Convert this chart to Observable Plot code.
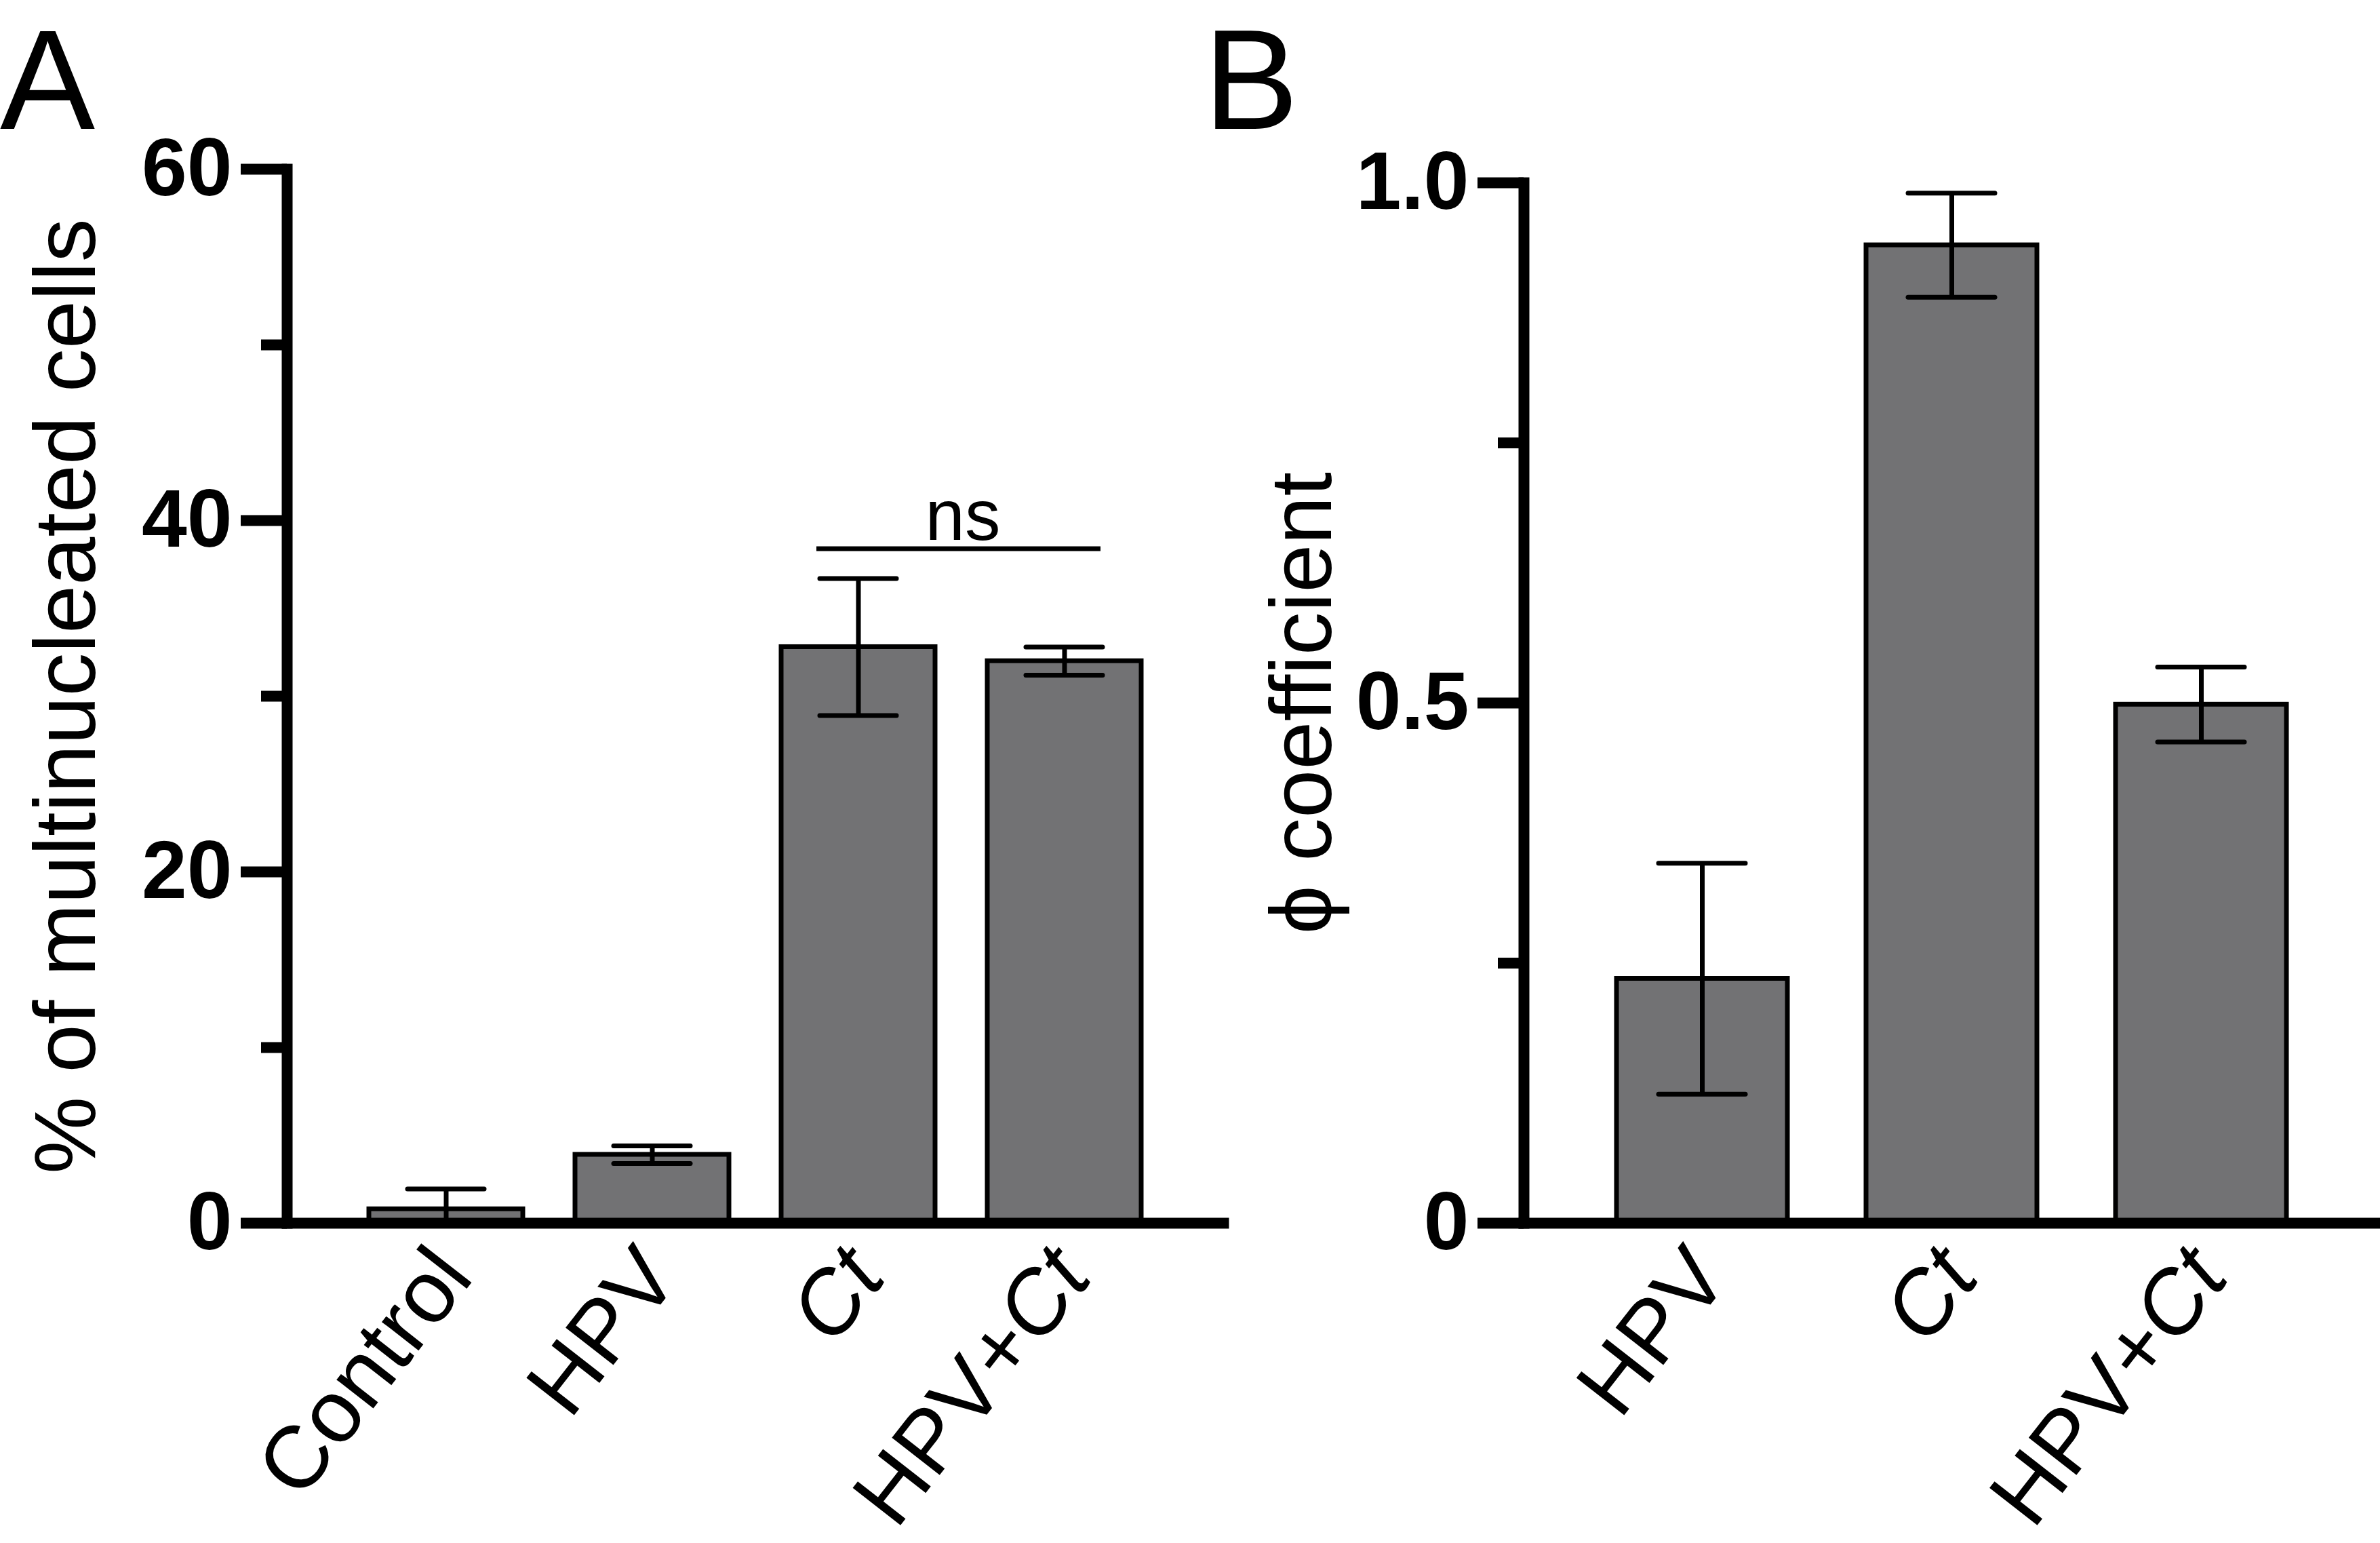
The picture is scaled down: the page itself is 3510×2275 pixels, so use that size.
<!DOCTYPE html>
<html><head><meta charset="utf-8">
<script src="https://cdn.jsdelivr.net/npm/d3@7"></script>
<script src="https://cdn.jsdelivr.net/npm/@observablehq/plot@0.6"></script>
<style>
html,body{margin:0;padding:0;background:#fff;}
#root{position:relative;width:3510px;height:2275px;overflow:hidden;background:#fff;}
#root > svg{position:absolute;top:0;}
</style></head><body><div id="root"></div>
<script>
// ---- data ----
const groupsA = ["Control", "HPV", "Ct", "HPV+Ct"];
const meanA = [0.8, 3.9, 32.8, 32.0];
const errA = [1.15, 0.5, 3.9, 0.8];
const groupsB = ["HPV", "Ct", "HPV+Ct"];
const meanB = [0.235, 0.94, 0.4985];
const errB = [0.111, 0.05, 0.036];
const majorTicksA = [0, 20, 40, 60];
const minorTicksA = [10, 30, 50];
const majorTicksB = [0, 0.5, 1];
const tickLabelsB = ["0", "0.5", "1.0"];
const minorTicksB = [0.25, 0.75];
const bracketsA = [{from: "Ct", to: "HPV+Ct", y: 38.4, label: "ns"}];
const titleA = "% of multinucleated cells";
const titleB = "\u03d5 coefficient";
const italicTerm = "Ct";

const FONT = "'Liberation Sans', Arial, Helvetica, 'DejaVu Sans', sans-serif";
const BAR = "#727274";

const rows = (g, m, e) => g.map((k, i) => ({group: k, mean: m[i], lo: m[i] - e[i], hi: m[i] + e[i]}));

function panel(o) {
  const data = o.rows;
  return Plot.plot({
    width: o.width, height: 2275,
    marginLeft: o.marginLeft, marginRight: o.marginRight, marginTop: o.marginTop, marginBottom: 472,
    style: {fontFamily: FONT, background: "transparent", overflow: "visible", color: "black"},
    x: {domain: o.groups, paddingInner: o.padIn, paddingOuter: o.padOut, axis: null},
    y: {domain: o.yDomain},
    marks: [
      Plot.barY(data, {x: "group", y: "mean", fill: BAR, stroke: "black", strokeWidth: 7}),
      Plot.ruleX(data, {x: "group", y1: d => Math.max(0, d.lo), y2: "hi", stroke: "black", strokeWidth: 7}),
      Plot.tickY(data, {x: "group", y: "hi", insetLeft: o.capInset, insetRight: o.capInset, stroke: "black", strokeWidth: 7, strokeLinecap: "round"}),
      Plot.tickY(data.filter(d => d.lo > 0), {x: "group", y: "lo", insetLeft: o.capInset, insetRight: o.capInset, stroke: "black", strokeWidth: 7, strokeLinecap: "round"}),
      ...(o.extra || []),
      Plot.frame({anchor: "left", stroke: "black", strokeWidth: 16, strokeLinecap: "square"}),
      Plot.frame({anchor: "bottom", stroke: "black", strokeWidth: 16}),
      Plot.axisY({ticks: o.major, tickSize: 68, tickPadding: 13, strokeWidth: 16, fontSize: 120, fontWeight: "bold", tickFormat: o.tickFormat, label: null}),
      Plot.axisY({ticks: o.minor, tickSize: 38, strokeWidth: 16, tickFormat: () => "", label: null}),
      Plot.text(o.groups, {x: d => d, frameAnchor: "bottom", rotate: -52, textAnchor: "end", lineAnchor: "top", fontSize: 130, dx: -30, dy: 24, className: "xlab"}),
      Plot.text([o.title], {frameAnchor: "left", rotate: -90, textAnchor: "middle", lineAnchor: "top", fontSize: 128, letterSpacing: o.letterSpacing, dx: o.titleDx})
    ]
  });
}

function italicize(svg) {
  d3.select(svg).selectAll(".xlab text").each(function () {
    const t = this.textContent;
    const idx = t.indexOf(italicTerm);
    if (idx < 0) return;
    const el = d3.select(this);
    el.text(null);
    if (idx > 0) el.append("tspan").text(t.slice(0, idx));
    el.append("tspan").attr("font-style", "italic").text(italicTerm);
    const rest = t.slice(idx + italicTerm.length);
    if (rest) el.append("tspan").text(rest);
  });
}

const root = document.getElementById("root");

const svgA = panel({
  rows: rows(groupsA, meanA, errA), groups: groupsA, yDomain: [0, 60],
  major: majorTicksA, minor: minorTicksA, tickFormat: d => String(d),
  title: titleA, width: 1810, marginLeft: 423, marginRight: 6, marginTop: 249,
  padIn: 0.2545, padOut: 0.395, capInset: 57, titleDx: -374, letterSpacing: -2.5,
  extra: [
    Plot.ruleY(bracketsA, {y: "y", x1: "from", x2: "to", insetLeft: 52, insetRight: 60, stroke: "black", strokeWidth: 7}),
    Plot.text(bracketsA, {x: "from", y: "y", text: "label", dx: 154, dy: -13, lineAnchor: "bottom", fontSize: 105})
  ]
});
svgA.style.left = "0px";
italicize(svgA);
root.appendChild(svgA);

const svgB = panel({
  rows: rows(groupsB, meanB, errB), groups: groupsB, yDomain: [0, 1],
  major: majorTicksB, minor: minorTicksB, tickFormat: d => tickLabelsB[majorTicksB.indexOf(d)],
  title: titleB, width: 1700, marginLeft: 437, marginRight: 0, marginTop: 269,
  padIn: 0.315, padOut: 0.3735, capInset: 62, titleDx: -375, letterSpacing: -2
});
svgB.style.left = "1810px";
italicize(svgB);
root.appendChild(svgB);

// panel letters
const over = d3.create("svg").attr("width", 3510).attr("height", 2275)
  .style("left", "0px").style("pointer-events", "none")
  .attr("font-family", FONT);
over.append("text").attr("x", 0).attr("y", 190).attr("font-size", 210).text("A");
over.append("text").attr("x", 1775).attr("y", 190).attr("font-size", 210).text("B");
root.appendChild(over.node());
</script></body></html>
